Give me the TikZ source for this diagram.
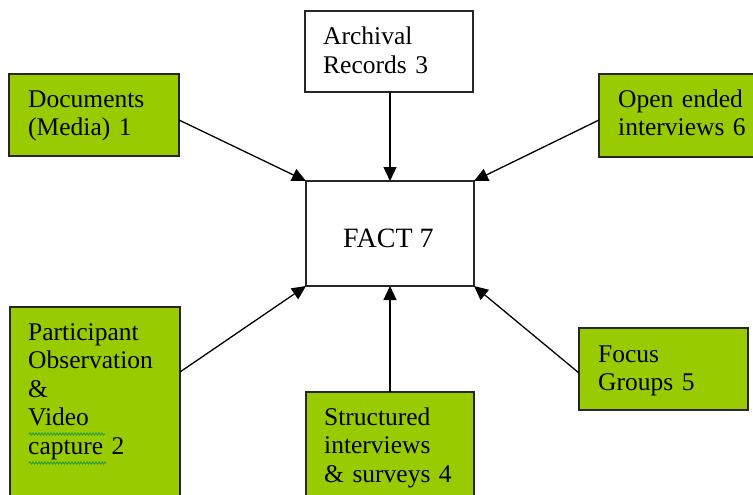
\documentclass[tikz,border=0pt]{standalone}
\usepackage{fontspec}
\setmainfont{Liberation Serif}
\newfontfamily\boxfont{Liberation Serif}
\usetikzlibrary{arrows.meta,decorations.pathmorphing}
\definecolor{boxgreen}{HTML}{99CC00}
\definecolor{squiggle}{HTML}{2E9E3A}
\tikzset{
  srcbox/.style={draw=black!85, line width=1.3pt, fill=boxgreen, inner sep=0pt, outer sep=0pt, anchor=north west},
  plainbox/.style={srcbox, fill=white},
  boxtext/.style={anchor=base west, inner sep=0pt, text width=160pt, align=left,
    font=\boxfont\fontsize{25.5pt}{28.5pt}\selectfont},
  feed/.style={line width=1.3pt, -{Triangle[length=14pt,width=13pt]}},
  spell/.style={squiggle, line width=1pt, decorate,
    decoration={snake, amplitude=1.1pt, segment length=3pt}}
}
\begin{document}
\begin{tikzpicture}[x=1pt, y=-1pt]
  \useasboundingbox (0,0) rectangle (753,495);
  \clip (0,0) rectangle (753,495);

  % boxes
  \node[plainbox, minimum width=168pt, minimum height=81pt] (arch) at (305,11) {};
  \node[srcbox, minimum width=170pt, minimum height=82pt] (doc) at (9,74) {};
  \node[srcbox, minimum width=170pt, minimum height=83pt] (open) at (599,74) {};
  \node[plainbox, minimum width=168pt, minimum height=105pt] (fact) at (306,181) {};
  \node[srcbox, minimum width=170pt, minimum height=210pt] (part) at (10,307) {};
  \node[srcbox, minimum width=168pt, minimum height=120pt] (struct) at (306,392) {};
  \node[srcbox, minimum width=169pt, minimum height=82pt] (focus) at (579,328) {};

  % box texts
  \node[boxtext] (archtxt) at (323,45) {Archival\\Records 3};
  \node[boxtext] (doctxt) at (28,107) {Documents\\(Media) 1};
  \node[boxtext] (opentxt) at (618,107) {Open ended\\interviews 6};
  \node[anchor=base west, inner sep=0pt, font=\boxfont\fontsize{28pt}{30pt}\selectfont] (facttxt) at (343,247) {FACT 7};
  \node[boxtext] (parttxt) at (28,340) {Participant\\Observation\\\&\\Video\\capture 2};
  \node[boxtext] (structtxt) at (324,425) {Structured\\interviews\\\& surveys 4};
  \node[boxtext] (focustxt) at (598,362) {Focus\\Groups 5};

  % spelling marks under two words
  \coordinate (sqA) at (29,434);
  \coordinate (sqB) at (105,434);
  \coordinate (sqC) at (29,463);
  \coordinate (sqD) at (106,463);
  \draw[spell] (sqA) -- (sqB);
  \draw[spell] (sqC) -- (sqD);

  % connectors into the central box
  \draw[feed] ([yshift=-5pt]doc.east) -- (fact.north west);
  \draw[feed] (arch.south -| fact.north) -- (fact.north);
  \draw[feed] ([yshift=-5pt]open.west |- doc.east) -- (fact.north east);
  \draw[feed] (part.east |- 0,372) -- (fact.south west);
  \draw[feed] (struct.north) -- (fact.south);
  \draw[feed] (focus.west |- 0,373) -- (fact.south east);
\end{tikzpicture}
\end{document}
